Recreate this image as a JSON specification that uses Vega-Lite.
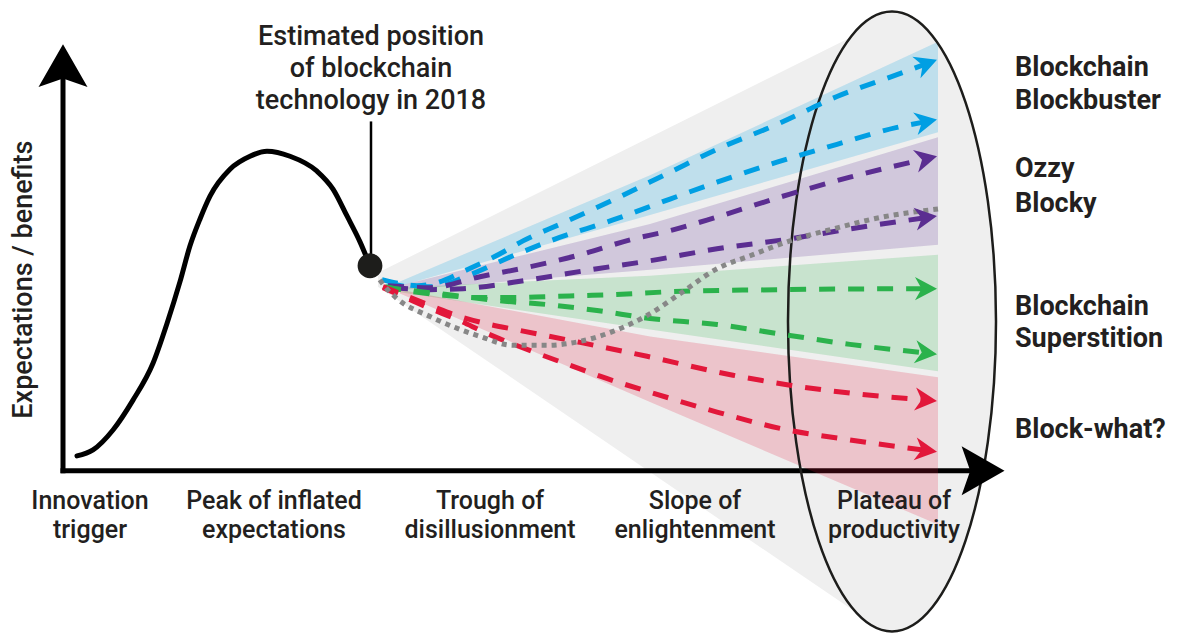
{
  "$schema": "https://vega.github.io/schema/vega-lite/v6.json",
  "width": 1180,
  "height": 635,
  "autosize": {"type": "fit", "contains": "padding"},
  "padding": 0,
  "background": "white",
  "config": {"view": {"stroke": null}},
  "datasets": {
    "fan": [{"x": 378, "y": 274, "y2": 288}, {"x": 860, "y": 33, "y2": 618}],
    "ellipse": [{"x": 892, "y": 323}],
    "axes": [{"x": 63, "y": 62, "x2": 63, "y2": 475.5}, {"x": 60.5, "y": 473, "x2": 975, "y2": 473}],
    "bands": [
      {"c": "blue", "x": 390, "y": 287, "y2": 290}, {"c": "blue", "x": 650, "y": 176, "y2": 216}, {"c": "blue", "x": 938, "y": 42, "y2": 133},
      {"c": "purple", "x": 395, "y": 288, "y2": 292}, {"c": "purple", "x": 650, "y": 225, "y2": 271}, {"c": "purple", "x": 938, "y": 138, "y2": 246},
      {"c": "green", "x": 395, "y": 289, "y2": 293}, {"c": "green", "x": 650, "y": 277, "y2": 331}, {"c": "green", "x": 938, "y": 256, "y2": 373},
      {"c": "red", "x": 400, "y": 291, "y2": 295}, {"c": "red", "x": 650, "y": 338, "y2": 404}, {"c": "red", "x": 938, "y": 379, "y2": 527}
    ],
    "paths": [
      {"c": "blue", "s": "b1", "x": 382, "y": 281}, {"c": "blue", "s": "b1", "x": 400, "y": 285}, {"c": "blue", "s": "b1", "x": 417, "y": 287}, {"c": "blue", "s": "b1", "x": 437, "y": 284}, {"c": "blue", "s": "b1", "x": 467, "y": 271}, {"c": "blue", "s": "b1", "x": 500, "y": 255}, {"c": "blue", "s": "b1", "x": 523, "y": 242}, {"c": "blue", "s": "b1", "x": 563, "y": 224}, {"c": "blue", "s": "b1", "x": 613, "y": 201}, {"c": "blue", "s": "b1", "x": 670, "y": 173}, {"c": "blue", "s": "b1", "x": 717, "y": 150}, {"c": "blue", "s": "b1", "x": 777, "y": 125}, {"c": "blue", "s": "b1", "x": 837, "y": 97}, {"c": "blue", "s": "b1", "x": 897, "y": 75}, {"c": "blue", "s": "b1", "x": 926.7, "y": 63.9},
      {"c": "blue", "s": "b2", "x": 388, "y": 284}, {"c": "blue", "s": "b2", "x": 410, "y": 288}, {"c": "blue", "s": "b2", "x": 433, "y": 288}, {"c": "blue", "s": "b2", "x": 470, "y": 276}, {"c": "blue", "s": "b2", "x": 513, "y": 257}, {"c": "blue", "s": "b2", "x": 553, "y": 241}, {"c": "blue", "s": "b2", "x": 613, "y": 221}, {"c": "blue", "s": "b2", "x": 670, "y": 200}, {"c": "blue", "s": "b2", "x": 717, "y": 183}, {"c": "blue", "s": "b2", "x": 777, "y": 163}, {"c": "blue", "s": "b2", "x": 837, "y": 145}, {"c": "blue", "s": "b2", "x": 897, "y": 128}, {"c": "blue", "s": "b2", "x": 926.2, "y": 122.2},
      {"c": "purple", "s": "p1", "x": 388, "y": 287}, {"c": "purple", "s": "p1", "x": 430, "y": 289}, {"c": "purple", "s": "p1", "x": 480, "y": 278}, {"c": "purple", "s": "p1", "x": 530, "y": 268}, {"c": "purple", "s": "p1", "x": 580, "y": 256}, {"c": "purple", "s": "p1", "x": 630, "y": 241}, {"c": "purple", "s": "p1", "x": 673, "y": 231}, {"c": "purple", "s": "p1", "x": 717, "y": 218}, {"c": "purple", "s": "p1", "x": 790, "y": 195}, {"c": "purple", "s": "p1", "x": 850, "y": 178}, {"c": "purple", "s": "p1", "x": 926.3, "y": 159.5},
      {"c": "purple", "s": "p2", "x": 392, "y": 289}, {"c": "purple", "s": "p2", "x": 430, "y": 291}, {"c": "purple", "s": "p2", "x": 463, "y": 290}, {"c": "purple", "s": "p2", "x": 530, "y": 281}, {"c": "purple", "s": "p2", "x": 597, "y": 270}, {"c": "purple", "s": "p2", "x": 650, "y": 262}, {"c": "purple", "s": "p2", "x": 717, "y": 250}, {"c": "purple", "s": "p2", "x": 783, "y": 241}, {"c": "purple", "s": "p2", "x": 850, "y": 230}, {"c": "purple", "s": "p2", "x": 926.1, "y": 218.6},
      {"c": "green", "s": "g1", "x": 385, "y": 288}, {"c": "green", "s": "g1", "x": 413, "y": 293}, {"c": "green", "s": "g1", "x": 447, "y": 297}, {"c": "green", "s": "g1", "x": 480, "y": 299}, {"c": "green", "s": "g1", "x": 513, "y": 299}, {"c": "green", "s": "g1", "x": 547, "y": 298}, {"c": "green", "s": "g1", "x": 580, "y": 297}, {"c": "green", "s": "g1", "x": 613, "y": 296}, {"c": "green", "s": "g1", "x": 673, "y": 293}, {"c": "green", "s": "g1", "x": 783, "y": 291}, {"c": "green", "s": "g1", "x": 926, "y": 290},
      {"c": "green", "s": "g2", "x": 385, "y": 289}, {"c": "green", "s": "g2", "x": 447, "y": 296}, {"c": "green", "s": "g2", "x": 497, "y": 302}, {"c": "green", "s": "g2", "x": 547, "y": 306}, {"c": "green", "s": "g2", "x": 597, "y": 312}, {"c": "green", "s": "g2", "x": 650, "y": 320}, {"c": "green", "s": "g2", "x": 717, "y": 326}, {"c": "green", "s": "g2", "x": 783, "y": 336}, {"c": "green", "s": "g2", "x": 850, "y": 346}, {"c": "green", "s": "g2", "x": 926.1, "y": 354.7},
      {"c": "red", "s": "r1", "x": 383, "y": 288}, {"c": "red", "s": "r1", "x": 403, "y": 296}, {"c": "red", "s": "r1", "x": 433, "y": 308}, {"c": "red", "s": "r1", "x": 463, "y": 319}, {"c": "red", "s": "r1", "x": 490, "y": 326}, {"c": "red", "s": "r1", "x": 520, "y": 332}, {"c": "red", "s": "r1", "x": 580, "y": 344}, {"c": "red", "s": "r1", "x": 647, "y": 358}, {"c": "red", "s": "r1", "x": 733, "y": 377}, {"c": "red", "s": "r1", "x": 790, "y": 387}, {"c": "red", "s": "r1", "x": 850, "y": 395}, {"c": "red", "s": "r1", "x": 926, "y": 402},
      {"c": "red", "s": "r2", "x": 383, "y": 289}, {"c": "red", "s": "r2", "x": 403, "y": 298}, {"c": "red", "s": "r2", "x": 430, "y": 310}, {"c": "red", "s": "r2", "x": 457, "y": 321}, {"c": "red", "s": "r2", "x": 487, "y": 335}, {"c": "red", "s": "r2", "x": 540, "y": 356}, {"c": "red", "s": "r2", "x": 570, "y": 367}, {"c": "red", "s": "r2", "x": 600, "y": 378}, {"c": "red", "s": "r2", "x": 650, "y": 394}, {"c": "red", "s": "r2", "x": 717, "y": 414}, {"c": "red", "s": "r2", "x": 783, "y": 431}, {"c": "red", "s": "r2", "x": 850, "y": 442}, {"c": "red", "s": "r2", "x": 926.1, "y": 452.5}
    ],
    "dotted": [
      {"x": 374, "y": 273}, {"x": 385, "y": 288}, {"x": 397, "y": 300}, {"x": 430, "y": 318}, {"x": 480, "y": 338}, {"x": 513, "y": 347}, {"x": 547, "y": 347}, {"x": 580, "y": 343}, {"x": 613, "y": 333}, {"x": 647, "y": 317}, {"x": 683, "y": 293}, {"x": 717, "y": 270}, {"x": 750, "y": 257}, {"x": 790, "y": 242}, {"x": 833, "y": 230}, {"x": 883, "y": 218}, {"x": 938, "y": 210}
    ],
    "heads": [
      {"c": "blue", "x": 926.7, "y": 63.9, "a": 339.4},
      {"c": "blue", "x": 926.2, "y": 122.2, "a": 348.7},
      {"c": "purple", "x": 926.3, "y": 159.5, "a": 347.1},
      {"c": "purple", "x": 926.1, "y": 218.6, "a": 351.5},
      {"c": "green", "x": 926, "y": 290, "a": 0},
      {"c": "green", "x": 926.1, "y": 354.7, "a": 6.6},
      {"c": "red", "x": 926, "y": 402, "a": 5.3},
      {"c": "red", "x": 926.1, "y": 452.5, "a": 7.9}
    ],
    "axisHeads": [{"x": 63, "y": 69, "a": 270}, {"x": 980, "y": 473, "a": 0}],
    "hype": [
      {"x": 77, "y": 458}, {"x": 93, "y": 452}, {"x": 113, "y": 432}, {"x": 133, "y": 402}, {"x": 153, "y": 365}, {"x": 167, "y": 325}, {"x": 180, "y": 283}, {"x": 190, "y": 247}, {"x": 200, "y": 220}, {"x": 210, "y": 197}, {"x": 230, "y": 170}, {"x": 250, "y": 157}, {"x": 267, "y": 152}, {"x": 290, "y": 157}, {"x": 317, "y": 172}, {"x": 333, "y": 190}, {"x": 347, "y": 217}, {"x": 360, "y": 243}, {"x": 370, "y": 267}
    ],
    "pin": [{"x": 371, "y": 122, "y2": 262}],
    "dot": [{"x": 370, "y": 267}],
    "cats": [
      {"t": "Innovation", "x": 90, "y": 503}, {"t": "trigger", "x": 90, "y": 533},
      {"t": "Peak of inflated", "x": 274, "y": 503}, {"t": "expectations", "x": 274, "y": 533},
      {"t": "Trough of", "x": 490, "y": 503}, {"t": "disillusionment", "x": 490, "y": 533},
      {"t": "Slope of", "x": 695, "y": 503}, {"t": "enlightenment", "x": 695, "y": 533},
      {"t": "Plateau of", "x": 894, "y": 503}, {"t": "productivity", "x": 894, "y": 533}
    ],
    "right": [
      {"t": "Blockchain", "x": 1015, "y": 68}, {"t": "Blockbuster", "x": 1015, "y": 101},
      {"t": "Ozzy", "x": 1015, "y": 170}, {"t": "Blocky", "x": 1015, "y": 205},
      {"t": "Blockchain", "x": 1015, "y": 308}, {"t": "Superstition", "x": 1015, "y": 341},
      {"t": "Block-what?", "x": 1015, "y": 432}
    ],
    "note": [
      {"t": "Estimated position", "x": 371, "y": 37},
      {"t": "of blockchain", "x": 371, "y": 69},
      {"t": "technology in 2018", "x": 371, "y": 101}
    ],
    "ytitle": [{"t": "Expectations / benefits", "x": 24, "y": 281}]
  },
  "encoding": {
    "x": {"field": "x", "type": "quantitative", "scale": {"domain": [0, 1180], "nice": false, "zero": false}, "axis": null},
    "y": {"field": "y", "type": "quantitative", "scale": {"domain": [0, 635], "nice": false, "zero": false, "reverse": true}, "axis": null}
  },
  "layer": [
    {"data": {"name": "fan"}, "mark": {"type": "area", "color": "#efefef"}, "encoding": {"y2": {"field": "y2"}}},
    {"data": {"name": "ellipse"}, "mark": {"type": "point", "shape": "M 1 0 C 1 1.6459 0.5523 2.98 0 2.98 C -0.5523 2.98 -1 1.6459 -1 0 C -1 -1.6459 -0.5523 -2.98 0 -2.98 C 0.5523 -2.98 1 -1.6459 1 0 Z", "filled": true, "color": "#efefef", "opacity": 1, "size": 43264, "strokeWidth": 0}},
    {"data": {"name": "axes"}, "mark": {"type": "rule", "color": "#000000", "strokeWidth": 5}, "encoding": {"x2": {"field": "x2"}, "y2": {"field": "y2"}}},
    {"data": {"name": "bands"}, "mark": {"type": "area", "opacity": 0.2}, "encoding": {"y2": {"field": "y2"}, "color": {"field": "c", "type": "nominal", "scale": {"domain": ["blue", "purple", "green", "red"], "range": ["#009fe3", "#5b2e91", "#2bb24c", "#e2173a"]}, "legend": null}}},
    {"data": {"name": "ellipse"}, "mark": {"type": "point", "shape": "M 1 0 C 1 1.6459 0.5523 2.98 0 2.98 C -0.5523 2.98 -1 1.6459 -1 0 C -1 -1.6459 -0.5523 -2.98 0 -2.98 C 0.5523 -2.98 1 -1.6459 1 0 Z", "filled": false, "stroke": "#1d1d1b", "opacity": 1, "size": 43264, "strokeWidth": 2.5}},
    {"data": {"name": "paths"}, "mark": {"type": "line", "interpolate": "monotone", "strokeWidth": 5, "strokeDash": [16, 13]}, "encoding": {"color": {"field": "c", "type": "nominal", "scale": {"domain": ["blue", "purple", "green", "red"], "range": ["#009fe3", "#5b2e91", "#2bb24c", "#e2173a"]}, "legend": null}, "detail": {"field": "s"}}},
    {"data": {"name": "dotted"}, "mark": {"type": "line", "interpolate": "monotone", "strokeWidth": 5, "strokeDash": [5, 5], "color": "#878787"}},
    {"data": {"name": "heads"}, "mark": {"type": "point", "shape": "M 1 0 L -1 -1.05 L -0.4 0 L -1 1.05 Z", "filled": true, "opacity": 1, "size": 484, "strokeWidth": 0}, "encoding": {"color": {"field": "c", "type": "nominal", "scale": {"domain": ["blue", "purple", "green", "red"], "range": ["#009fe3", "#5b2e91", "#2bb24c", "#e2173a"]}, "legend": null}, "angle": {"field": "a", "type": "quantitative", "scale": null}}},
    {"data": {"name": "axisHeads"}, "mark": {"type": "point", "shape": "M 1 0 L -0.75 -1 L -0.4 0 L -0.75 1 Z", "filled": true, "opacity": 1, "size": 2401, "color": "#000000", "strokeWidth": 0}, "encoding": {"angle": {"field": "a", "type": "quantitative", "scale": null}}},
    {"data": {"name": "hype"}, "mark": {"type": "line", "interpolate": "monotone", "strokeWidth": 5, "color": "#000000", "strokeCap": "round"}},
    {"data": {"name": "pin"}, "mark": {"type": "rule", "color": "#000000", "strokeWidth": 2.5}, "encoding": {"y2": {"field": "y2"}}},
    {"data": {"name": "dot"}, "mark": {"type": "point", "shape": "circle", "filled": true, "opacity": 1, "size": 616, "color": "#1d1d1b"}},
    {"data": {"name": "cats"}, "mark": {"type": "text", "font": "Roboto", "fontSize": 25, "fontWeight": 500, "align": "center", "baseline": "middle", "color": "#231f20"}, "encoding": {"text": {"field": "t"}}},
    {"data": {"name": "right"}, "mark": {"type": "text", "font": "Roboto", "fontSize": 27, "fontWeight": "bold", "align": "left", "baseline": "middle", "color": "#231f20"}, "encoding": {"text": {"field": "t"}}},
    {"data": {"name": "note"}, "mark": {"type": "text", "font": "Roboto", "fontSize": 27, "fontWeight": 500, "align": "center", "baseline": "middle", "color": "#231f20"}, "encoding": {"text": {"field": "t"}}},
    {"data": {"name": "ytitle"}, "mark": {"type": "text", "font": "Roboto", "fontSize": 27, "fontWeight": 500, "align": "center", "baseline": "middle", "angle": 270, "color": "#231f20"}, "encoding": {"text": {"field": "t"}}}
  ]
}
